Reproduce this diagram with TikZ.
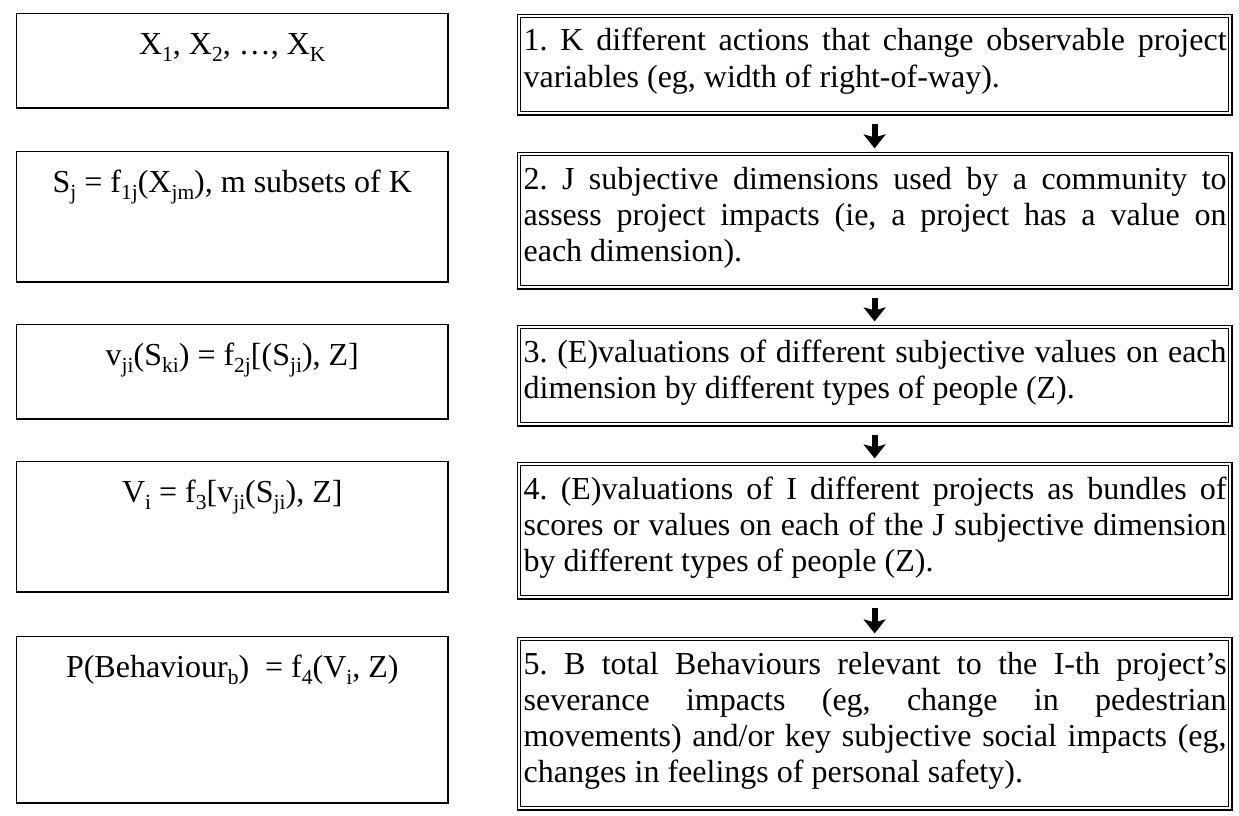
\documentclass[tikz,border=0pt]{standalone}
\usepackage{fontspec}
\setmainfont{Liberation Serif}
\usetikzlibrary{arrows.meta}
\frenchspacing
% lowered, smaller index text
\newcommand\lsub[1]{\raisebox{-0.2em}{\fontsize{21.5}{21.5}\selectfont #1}}
% a justified line and a closing (ragged) line of a paragraph
\newcommand\jline[1]{\hbox to\linewidth{#1}}
\newcommand\lline[1]{\hbox to\linewidth{#1\hfil}}
\begin{document}
\begin{tikzpicture}[x=1pt,y=-1pt,
  lbox/.style={draw, line width=1.6pt, anchor=north west, inner sep=0pt, minimum width=431.4pt},
  rbox/.style={draw, line width=1.2pt, double, double distance=2.4pt, anchor=north west, inner sep=0pt, minimum width=711.2pt},
  body/.style={font=\fontsize{32}{36}\selectfont, inner sep=0pt},
  ltext/.style={body, anchor=base},
  rtext/.style={body, anchor=base west},
  down/.style={line width=6pt, -{Stealth[length=14pt,width=22pt,inset=3pt]}, shorten <=10pt, shorten >=5pt}]
\useasboundingbox (0,0) rectangle (1239,816);

% left column: formulae
\node[lbox, minimum height=94.4pt]  (l1) at (15.8,12.8)  {};
\node[lbox, minimum height=130.4pt] (l2) at (15.8,150.8) {};
\node[lbox, minimum height=94.4pt]  (l3) at (15.8,323.8) {};
\node[lbox, minimum height=130.4pt] (l4) at (15.8,460.8) {};
\node[lbox, minimum height=166.4pt] (l5) at (15.8,635.8) {};

\node[ltext] (l1t) at ([yshift=-42pt]l1.north) {X\lsub{1}, X\lsub{2}, \dots, X\lsub{K}};
\node[ltext] (l2t) at ([yshift=-42pt]l2.north) {S\lsub{j} = f\lsub{1j}(X\lsub{jm}), m subsets of K};
\node[ltext] (l3t) at ([yshift=-42pt]l3.north) {v\lsub{ji}(S\lsub{ki}) = f\lsub{2j}[(S\lsub{ji}), Z]};
\node[ltext] (l4t) at ([yshift=-42pt]l4.north) {V\lsub{i} = f\lsub{3}[v\lsub{ji}(S\lsub{ji}), Z]};
\node[ltext] (l5t) at ([yshift=-42pt]l5.north) {P(Behaviour\lsub{b})\ \ = f\lsub{4}(V\lsub{i}, Z)};

% right column: descriptions
\node[rbox, minimum height=97.2pt]  (r1) at (518.4,15.4)  {};
\node[rbox, minimum height=133.2pt] (r2) at (518.4,153.4) {};
\node[rbox, minimum height=97.2pt]  (r3) at (518.4,326.4) {};
\node[rbox, minimum height=133.2pt] (r4) at (518.4,463.4) {};
\node[rbox, minimum height=169.2pt] (r5) at (518.4,638.4) {};

\node[rtext] (r1t) at ([xshift=5pt,yshift=-35.6pt]r1.north west) {\parbox[t]{703pt}{%
  \jline{1. K different actions that change observable project}%
  \lline{variables (eg, width of right-of-way).}}};
\node[rtext] (r2t) at ([xshift=5pt,yshift=-35.6pt]r2.north west) {\parbox[t]{703pt}{%
  \jline{2. J subjective dimensions used by a community to}%
  \jline{assess project impacts (ie, a project has a value on}%
  \lline{each dimension).}}};
\node[rtext] (r3t) at ([xshift=5pt,yshift=-35.6pt]r3.north west) {\parbox[t]{703pt}{%
  \jline{3. (E)valuations of different subjective values on each}%
  \lline{dimension by different types of people (Z).}}};
\node[rtext] (r4t) at ([xshift=5pt,yshift=-35.6pt]r4.north west) {\parbox[t]{703pt}{%
  \jline{4. (E)valuations of I different projects as bundles of}%
  \jline{scores or values on each of the J subjective dimension}%
  \lline{by different types of people (Z).}}};
\node[rtext] (r5t) at ([xshift=5pt,yshift=-35.6pt]r5.north west) {\parbox[t]{703pt}{%
  \jline{5. B total Behaviours relevant to the I-th project’s}%
  \jline{severance impacts (eg, change in pedestrian}%
  \jline{movements) and/or key subjective social impacts (eg,}%
  \lline{changes in feelings of personal safety).}}};

% flow between the descriptions
\draw[down] (r1.south) -- (r2.north);
\draw[down] (r2.south) -- (r3.north);
\draw[down] (r3.south) -- (r4.north);
\draw[down] (r4.south) -- (r5.north);
\end{tikzpicture}
\end{document}
